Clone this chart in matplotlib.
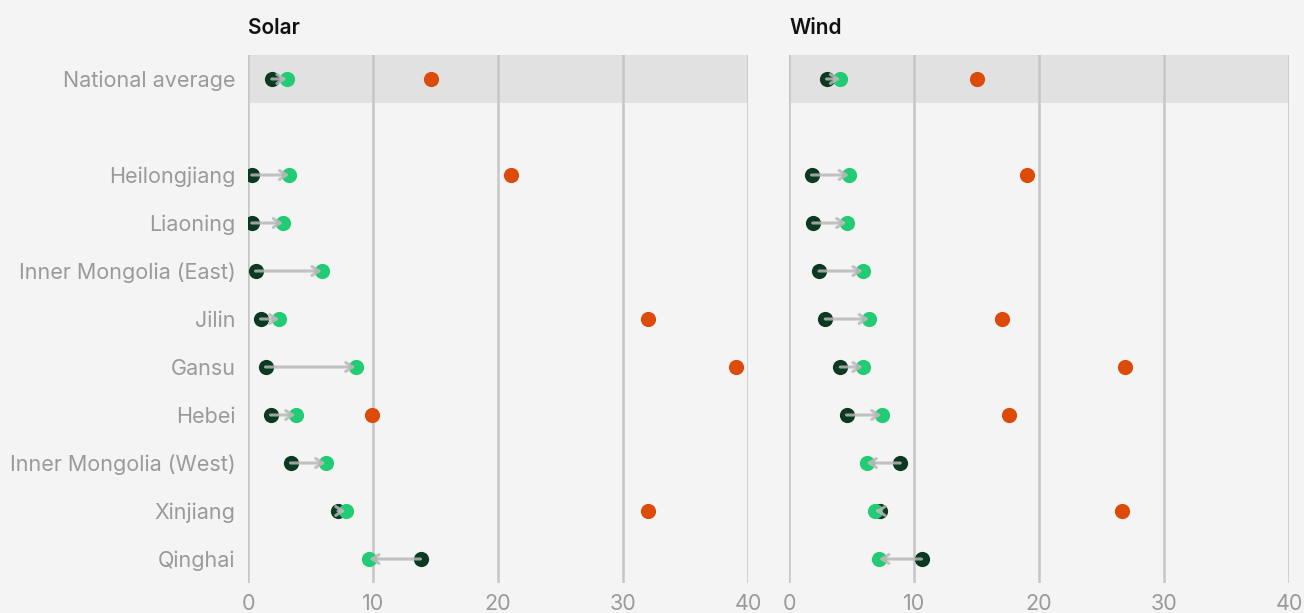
import matplotlib
matplotlib.use("Agg")
import matplotlib.pyplot as plt

regions = ["National average", "Heilongjiang", "Liaoning", "Inner Mongolia (East)", "Jilin",
           "Gansu", "Hebei", "Inner Mongolia (West)", "Xinjiang", "Qinghai"]
row_pos = [0, 2, 3, 4, 5, 6, 7, 8, 9, 10]

solar_start = [1.9, 0.3, 0.3, 0.6, 1.0, 1.4, 1.8, 3.4, 7.2, 13.8]
solar_end   = [3.1, 3.3, 2.8, 5.9, 2.5, 8.6, 3.8, 6.2, 7.8, 9.7]
solar_orange = [14.6, 21.0, None, None, 32.0, 39.0, 9.9, None, 32.0, None]

wind_start = [3.0, 1.8, 1.9, 2.4, 2.9, 4.1, 4.6, 8.9, 7.3, 10.6]
wind_end   = [4.1, 4.8, 4.6, 5.9, 6.4, 5.9, 7.4, 6.2, 6.9, 7.2]
wind_orange = [15.0, 19.0, None, None, 17.0, 26.9, 17.6, None, 26.6, None]

ticks = [0, 10, 20, 30, 40]
titles = ["Solar", "Wind"]

BG = "#f4f4f4"
BAND = "#e1e1e1"
GRID = "#c6c6c6"
DARK = "#0b3a20"
GREEN = "#22cc75"
ORANGE = "#dc4c08"
LABEL = "#9a9a9a"
FONT = "Inter"

fig = plt.figure(figsize=(13.04, 6.13), dpi=100, facecolor=BG)
W, H = 1304, 613
top = 1 - 55 / H
bottom = 1 - 583 / H
axL = fig.add_axes([248 / W, bottom, 500 / W, top - bottom])
axR = fig.add_axes([789 / W, bottom, 500 / W, top - bottom])

panels = [(axL, solar_start, solar_end, solar_orange),
          (axR, wind_start, wind_end, wind_orange)]

for i, (ax, st, en, orr) in enumerate(panels):
    ax.set_facecolor(BG)
    ax.set_xlim(0, 40)
    ax.set_ylim(10.5, -0.5)
    ax.axhspan(-0.5, 0.5, color=BAND, zorder=0, lw=0)
    for t in ticks:
        ax.axvline(t, color=GRID, lw=1.8, zorder=1)
    for s in ax.spines.values():
        s.set_visible(False)
    ax.set_xticks(ticks)
    ax.set_xticklabels([str(t) for t in ticks], fontsize=15.5, color=LABEL, family=FONT)
    ax.tick_params(axis="x", length=0, pad=8)
    ax.tick_params(axis="y", length=0, pad=9)
    if i == 0:
        ax.set_yticks(row_pos)
        ax.set_yticklabels(regions, fontsize=15.5, color=LABEL, family=FONT)
    else:
        ax.set_yticks([])
    for y, a, b, o in zip(row_pos, st, en, orr):
        ax.scatter([a], [y], s=120, color=DARK, zorder=3, lw=0)
        ax.scatter([b], [y], s=120, color=GREEN, zorder=3, lw=0)
        if o is not None:
            ax.scatter([o], [y], s=120, color=ORANGE, zorder=3, lw=0)
        ax.annotate("", xy=(b, y), xytext=(a, y),
                    arrowprops=dict(arrowstyle="->,head_length=0.5,head_width=0.32",
                                    color="#b8b8b8", lw=2.2, alpha=0.85,
                                    shrinkA=0, shrinkB=0),
                    zorder=4)
    ax.text(0, 1.033, titles[i], transform=ax.transAxes, fontsize=15,
            fontweight="semibold", color="#111111", family=FONT, va="bottom", ha="left")

fig.savefig("out.png", dpi=100, facecolor=BG)
